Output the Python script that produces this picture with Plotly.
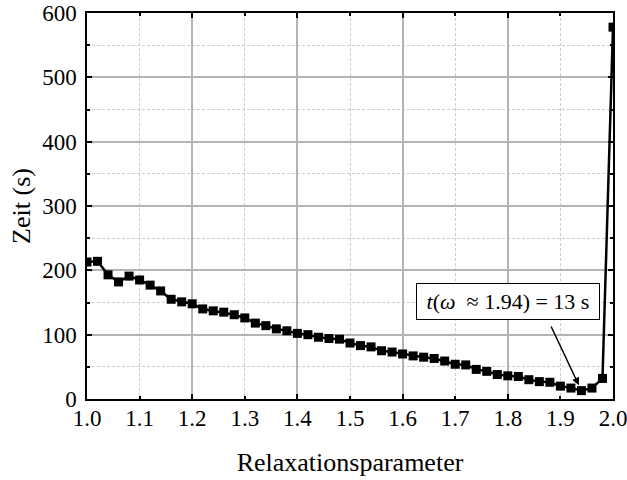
import plotly.graph_objects as go
import numpy as np

# Relaxation parameter (omega) and computation time (s)
omega = [1.00, 1.02, 1.04, 1.06, 1.08, 1.10, 1.12, 1.14, 1.16, 1.18,
         1.20, 1.22, 1.24, 1.26, 1.28, 1.30, 1.32, 1.34, 1.36, 1.38,
         1.40, 1.42, 1.44, 1.46, 1.48, 1.50, 1.52, 1.54, 1.56, 1.58,
         1.60, 1.62, 1.64, 1.66, 1.68, 1.70, 1.72, 1.74, 1.76, 1.78,
         1.80, 1.82, 1.84, 1.86, 1.88, 1.90, 1.92, 1.94, 1.96, 1.98, 2.00]
zeit = [213, 214, 193, 182, 191, 185, 177, 168, 155, 151,
        148, 140, 137, 135, 131, 126, 118, 114, 109, 106,
        102, 100, 96, 94, 93, 87, 83, 81, 75, 73,
        70, 67, 65, 63, 59, 54, 53, 46, 43, 38,
        36, 35, 30, 27, 26, 20, 17, 13, 17, 32, 578]

x_ticks = [1.0, 1.1, 1.2, 1.3, 1.4, 1.5, 1.6, 1.7, 1.8, 1.9, 2.0]
y_ticks = [0, 100, 200, 300, 400, 500, 600]

imin = int(np.argmin(zeit))
x_opt, t_opt = omega[imin], zeit[imin]

FONT = "Liberation Serif"

fig = go.Figure()
fig.add_trace(go.Scatter(
    x=omega, y=zeit, mode="lines+markers",
    line=dict(color="black", width=2.5),
    marker=dict(symbol="square", size=9, color="black"),
    showlegend=False, xaxis="x", yaxis="y"))
# helper trace for the overlay axis carrying the solid grid
fig.add_trace(go.Scatter(x=[], y=[], xaxis="x2", yaxis="y", showlegend=False))

fig.update_layout(
    width=627, height=480,
    margin=dict(l=87, r=14, t=13, b=81),
    paper_bgcolor="white", plot_bgcolor="white",
    font=dict(family=FONT, color="black", size=23),
    xaxis=dict(
        range=[1.0, 2.0], tickvals=x_ticks, ticktext=[f"{v:.1f}" for v in x_ticks],
        ticks="inside", ticklen=3, tickwidth=1.5, tickcolor="black",
        showline=True, linecolor="black", linewidth=1.5, mirror="ticks",
        showgrid=True, gridcolor="#cccccc", gridwidth=1, griddash="3px,2px",
        zeroline=False, automargin=False, ticklabelstandoff=-2,
        ticklabeloverflow="allow",
        tickfont=dict(size=23, family=FONT, color="black"),
        title=dict(text="Relaxationsparameter", font=dict(size=26, family=FONT), standoff=22),
    ),
    xaxis2=dict(
        overlaying="x", matches="x", range=[1.0, 2.0], dtick=0.2, tick0=1.0,
        showticklabels=False, ticks="inside", ticklen=5, tickwidth=1.5, tickcolor="black",
        showline=False, mirror="ticks", automargin=False,
        showgrid=True, gridcolor="#b4b4b4", gridwidth=1.5, zeroline=False,
    ),
    yaxis=dict(
        range=[0, 600], tickvals=y_ticks,
        ticks="inside", ticklen=5, tickwidth=1.5, tickcolor="black",
        showline=True, linecolor="black", linewidth=1.5, mirror="ticks",
        showgrid=True, gridcolor="#b4b4b4", gridwidth=1.5,
        minor=dict(dtick=50, ticks="inside", ticklen=3, tickcolor="black",
                   showgrid=True, gridcolor="#cccccc", gridwidth=1, griddash="3px,2px"),
        zeroline=False, automargin=False, ticklabelstandoff=4,
        ticklabeloverflow="allow",
        tickfont=dict(size=23, family=FONT, color="black"),
        title=dict(text="Zeit (s)", font=dict(size=26, family=FONT), standoff=4),
    ),
)

# annotation text box
fig.add_annotation(
    x=1.80, y=152, xref="x", yref="y", showarrow=False,
    text=f"<i>t</i>(<i>ω</i>  ≈ {x_opt:.2f}) = {t_opt} s",
    font=dict(size=22, family=FONT, color="black"),
    bordercolor="black", borderwidth=1, borderpad=5, bgcolor="white",
    width=172, height=25, align="center", xanchor="center", yanchor="middle")
# arrow to the minimum
fig.add_annotation(
    x=x_opt, y=t_opt, xref="x", yref="y", text="",
    showarrow=True, axref="x", ayref="y", ax=1.881, ay=115,
    arrowhead=2, arrowsize=1, arrowwidth=1.5, arrowcolor="black", standoff=6)

fig.write_html("out.html")
